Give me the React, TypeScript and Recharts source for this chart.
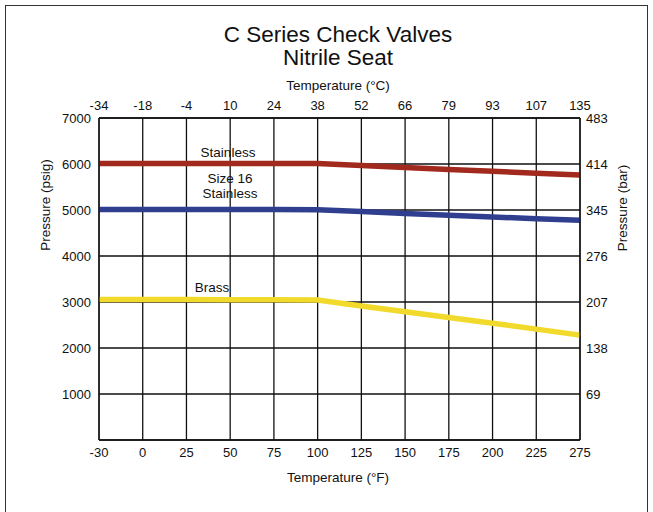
import { LineChart, Line, XAxis, YAxis, CartesianGrid, Customized } from "recharts";

// x positions are evenly spaced in the original, so the axis runs on an index
const F_LABELS = ["-30", "0", "25", "50", "75", "100", "125", "150", "175", "200", "225", "275"];
const C_LABELS = ["-34", "-18", "-4", "10", "24", "38", "52", "66", "79", "93", "107", "135"];
const PSI_TICKS = [1000, 2000, 3000, 4000, 5000, 6000, 7000];
const BAR_LABELS = ["69", "138", "207", "276", "345", "414", "483"];

const STAINLESS = [6010, 6010, 6010, 6010, 6010, 6010, 5965, 5925, 5880, 5840, 5800, 5760];
const SIZE16 = [5010, 5010, 5010, 5010, 5010, 5005, 4965, 4925, 4885, 4850, 4810, 4775];
const BRASS = [3055, 3055, 3055, 3050, 3050, 3045, 2915, 2790, 2665, 2540, 2410, 2280];

const rows = F_LABELS.map((_, i) => ({
  i,
  stainless: STAINLESS[i],
  size16: SIZE16[i],
  brass: BRASS[i],
}));

const FONT = '"Liberation Sans", Arial, Helvetica, sans-serif';
const tick = { fill: "#111", fontSize: 13, fontFamily: FONT };

function Annotations() {
  const t = { fontFamily: FONT, fill: "#111" };
  return (
    <g>
      <text x={338} y={42} textAnchor="middle" fontSize={22.5} {...t}>C Series Check Valves</text>
      <text x={338} y={65} textAnchor="middle" fontSize={22.5} {...t}>Nitrile Seat</text>
      <text x={338} y={90} textAnchor="middle" fontSize={13.5} {...t}>Temperature (°C)</text>
      <text x={338} y={482} textAnchor="middle" fontSize={13.5} {...t}>Temperature (°F)</text>
      <text x={50} y={205} textAnchor="middle" fontSize={13.5} transform="rotate(-90 50 205)" {...t}>Pressure (psig)</text>
      <text x={627} y={208} textAnchor="middle" fontSize={13.5} transform="rotate(-90 627 208)" {...t}>Pressure (bar)</text>
      <text x={228} y={157} textAnchor="middle" fontSize={13.5} {...t}>Stainless</text>
      <text x={230} y={183} textAnchor="middle" fontSize={13.5} {...t}>Size 16</text>
      <text x={230} y={198} textAnchor="middle" fontSize={13.5} {...t}>Stainless</text>
      <text x={212} y={292} textAnchor="middle" fontSize={13.5} {...t}>Brass</text>
    </g>
  );
}

export default function App() {
  return (
    <div style={{ position: "absolute", left: 0, top: 0, width: 653, height: 512, background: "#fff" }}>
      <div
        style={{
          position: "absolute",
          left: 5,
          top: 5,
          width: 643,
          height: 520,
          border: "1px solid #333",
          boxSizing: "border-box",
        }}
      />
      <LineChart
        width={653}
        height={512}
        data={rows}
        margin={{ top: 88, right: 23, bottom: 42, left: 39 }}
        style={{ position: "absolute", left: 0, top: 0 }}
      >
        <CartesianGrid xAxisId="bottom" yAxisId="left" stroke="#111" strokeWidth={1.3} />
        <XAxis
          xAxisId="bottom"
          dataKey="i"
          type="number"
          domain={[0, 11]}
          ticks={F_LABELS.map((_, i) => i)}
          tickFormatter={(v: number) => F_LABELS[v]}
          tick={tick}
          tickLine={false}
          axisLine={{ stroke: "#111", strokeWidth: 1.3 }}
          height={30}
          interval={0}
        />
        <XAxis
          xAxisId="top"
          orientation="top"
          dataKey="i"
          type="number"
          domain={[0, 11]}
          ticks={C_LABELS.map((_, i) => i)}
          tickFormatter={(v: number) => C_LABELS[v]}
          tick={tick}
          tickLine={false}
          axisLine={{ stroke: "#111", strokeWidth: 1.3 }}
          height={30}
          interval={0}
        />
        <YAxis
          yAxisId="left"
          domain={[0, 7000]}
          ticks={PSI_TICKS}
          tick={tick}
          tickLine={false}
          axisLine={{ stroke: "#111", strokeWidth: 1.3 }}
          width={60}
          interval={0}
        />
        <YAxis
          yAxisId="right"
          orientation="right"
          domain={[0, 7000]}
          ticks={PSI_TICKS}
          tickFormatter={(v: number) => BAR_LABELS[PSI_TICKS.indexOf(v)]}
          tick={tick}
          tickLine={false}
          tickSize={4}
          axisLine={{ stroke: "#111", strokeWidth: 1.3 }}
          width={50}
          interval={0}
        />
        {/* invisible series so the bar axis gets its ticks */}
        <Line xAxisId="top" yAxisId="right" type="linear" dataKey="stainless" stroke="none" strokeWidth={0} dot={false} activeDot={false} isAnimationActive={false} />
        <Line xAxisId="bottom" yAxisId="left" type="linear" dataKey="stainless" stroke="#a2291d" strokeWidth={5.5} dot={false} isAnimationActive={false} />
        <Line xAxisId="bottom" yAxisId="left" type="linear" dataKey="size16" stroke="#2f3e8e" strokeWidth={5.5} dot={false} isAnimationActive={false} />
        <Line xAxisId="bottom" yAxisId="left" type="linear" dataKey="brass" stroke="#f1da2c" strokeWidth={5.5} dot={false} isAnimationActive={false} />
        <Customized component={Annotations} />
      </LineChart>
    </div>
  );
}
